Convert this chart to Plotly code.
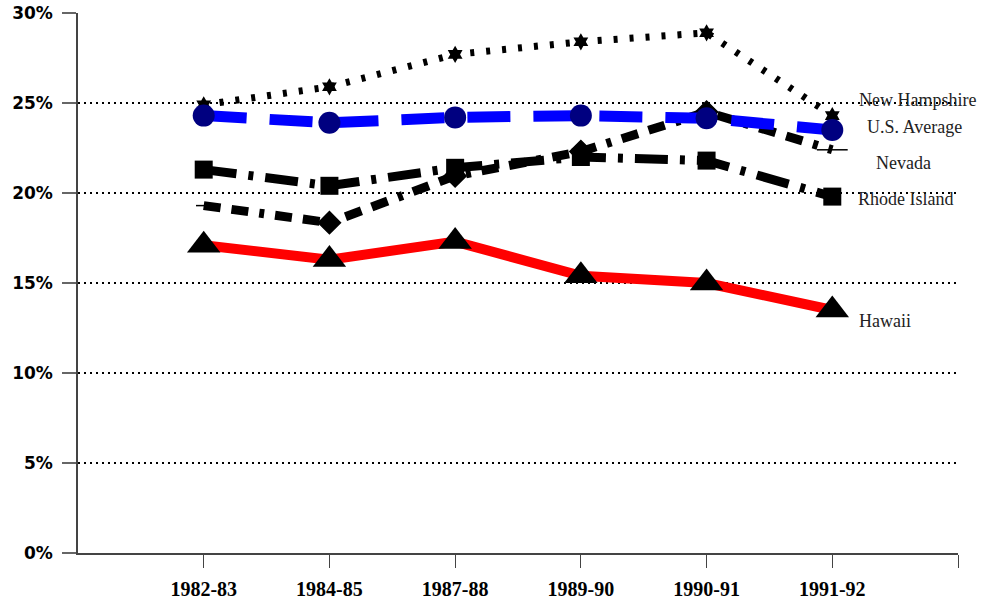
import plotly.graph_objects as go

# School-year periods on the x axis
years = ["1982-83", "1984-85", "1987-88", "1989-90", "1990-91", "1991-92"]

# Share (%) for each series
new_hampshire = [24.9, 25.9, 27.7, 28.4, 28.9, 24.3]
us_average = [24.3, 23.9, 24.2, 24.3, 24.15, 23.5]
rhode_island = [21.3, 20.4, 21.4, 22.0, 21.8, 19.8]
nevada = [19.3, 18.35, 20.95, 22.3, 24.5, 22.4]
hawaii = [17.1, 16.3, 17.3, 15.4, 15.0, 13.5]

# Vertical positions (%) of the series names at the right end
label_names = ["New Hampshire", "U.S. Average", "Nevada", "Rhode Island", "Hawaii"]
label_y = [25.15, 23.65, 21.65, 19.65, 12.9]
label_shift = [0, 8, 17, -1, 0]

y_ticks = [0, 5, 10, 15, 20, 25, 30]
y_tick_text = [f"{v}%" for v in y_ticks]

xpos = list(range(1, len(years) + 1))

fig = go.Figure()

fig.add_trace(go.Scatter(
    x=xpos, y=hawaii, mode="lines+markers", name="Hawaii",
    line=dict(color="#FF0000", width=10),
    marker=dict(symbol="triangle-up", size=29, color="black"),
))

fig.add_trace(go.Scatter(
    x=xpos, y=nevada, mode="lines+markers", name="Nevada",
    line=dict(color="black", width=9, dash="17px,11px,17px,11px,5px,11px"),
    marker=dict(symbol=["line-ew", "diamond", "diamond", "diamond", "diamond", "line-ew"],
                size=[11, 17, 17, 17, 17, 22], color="black", opacity=1,
                line=dict(color="black", width=1.5)),
))

fig.add_trace(go.Scatter(
    x=xpos, y=rhode_island, mode="lines+markers", name="Rhode Island",
    line=dict(color="black", width=9, dash="33px,12px,5px,12px"),
    marker=dict(symbol="square", size=18, color="black"),
))

fig.add_trace(go.Scatter(
    x=xpos, y=new_hampshire, mode="lines+markers", name="New Hampshire",
    line=dict(color="black", width=7, dash="4px,12px"),
    marker=dict(symbol="hexagram", size=13, color="black"),
))

fig.add_trace(go.Scatter(
    x=xpos, y=us_average, mode="lines+markers", name="U.S. Average",
    line=dict(color="#0000FF", width=11, dash="43px,23px"),
    marker=dict(symbol="circle", size=22, color="#000080"),
))

for name, yv, dx in zip(label_names, label_y, label_shift):
    fig.add_annotation(
        x=len(years), y=yv, xref="x", yref="y", text=name, showarrow=False,
        xanchor="left", yanchor="middle", xshift=25 + dx,
        font=dict(family="Liberation Serif, Times New Roman, serif", size=18, color="#222"),
    )

fig.update_layout(
    width=999, height=602,
    margin=dict(l=78, r=41, t=13, b=49),
    paper_bgcolor="white", plot_bgcolor="white",
    showlegend=False,
)

fig.update_xaxes(
    range=[0, len(years) + 1],
    tickvals=xpos + [len(years) + 1],
    ticktext=years + [""],
    ticks="outside", ticklen=13, tickcolor="#444", tickwidth=1,
    showline=True, linecolor="#444", linewidth=1.5,
    showgrid=False, zeroline=False, automargin=False,
    ticklabelstandoff=4,
    tickfont=dict(family="Liberation Serif, Times New Roman, serif", size=20, color="black",
                  weight="bold"),
)

fig.update_yaxes(
    range=[0, 30],
    tickvals=y_ticks, ticktext=y_tick_text,
    ticks="outside", ticklen=14, tickcolor="#666", tickwidth=1.5,
    showline=True, linecolor="#444", linewidth=1.5,
    showgrid=True, gridcolor="black", gridwidth=1.5, griddash="2px,4px",
    zeroline=False, automargin=False,
    ticklabelstandoff=6,
    tickfont=dict(family="DejaVu Sans, sans-serif", size=17, color="black", weight="bold"),
)

fig.write_html("out.html")
